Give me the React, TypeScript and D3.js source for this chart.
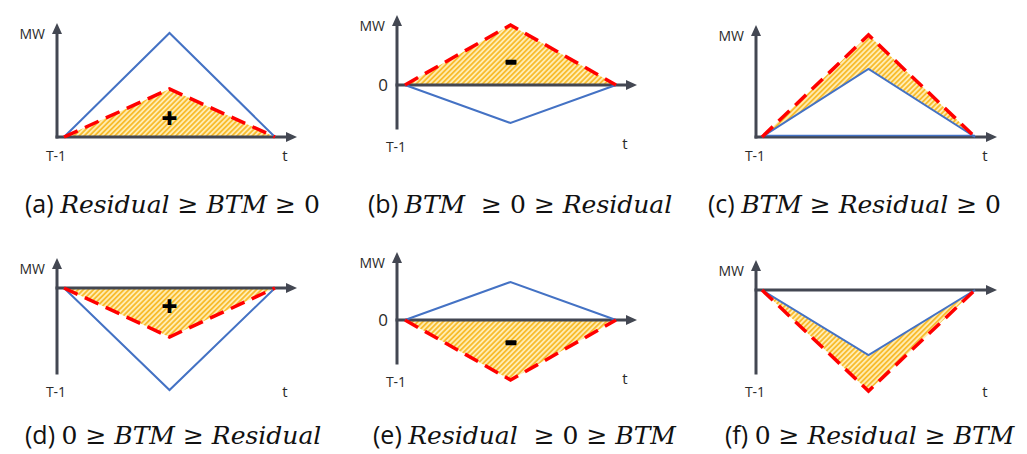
import React from 'react';
import * as d3 from 'd3';

// one entry per panel, (a) .. (f)
const panelTags = ['(a)', '(b)', '(c)', '(d)', '(e)', '(f)'];
const conditions = [
  'Residual ≥ BTM ≥ 0',
  'BTM  ≥ 0 ≥ Residual',
  'BTM ≥ Residual ≥ 0',
  '0 ≥ BTM ≥ Residual',
  'Residual  ≥ 0 ≥ BTM',
  '0 ≥ Residual ≥ BTM',
];
const timeSteps = [0, 0.5, 1]; // T-1 .. t
const residual = [
  [0, 104, 0],
  [0, -38, 0],
  [0, 68, 0],
  [0, -102, 0],
  [0, 38, 0],
  [0, -65, 0],
];
const btm = [
  [0, 48, 0],
  [0, 60, 0],
  [0, 102, 0],
  [0, -49, 0],
  [0, -60, 0],
  [0, -101, 0],
];
const axisTop = [114, 70, 112, 30, 68, 30];
const axisBottom = [0, -43, 0, -85, -43, -83];
const shadeTo = ['zero', 'zero', 'residual', 'zero', 'zero', 'residual'];
const signs = ['+', '-', '', '+', '-', ''];
const zeroLabel = [false, true, false, false, true, false];

// layout
const colAxis = [57, 397, 756];
const colLeft = [64, 405, 762];
const colRight = [275, 616, 975];
const colTip = [297, 637, 997];
const zeroY = [137, 85, 137, 288, 320, 290];
const captionX = [25, 368, 708, 25, 373, 725];
const captionY = [213, 213, 213, 444, 444, 444];

const AXIS = '#434752';
const BLUE = '#4472C4';
const RED = '#FF0000';
const SANS = 'Open Sans, sans-serif';
const MATH = 'DejaVu Serif, serif';

function Panel({ i }: { i: number }) {
  const col = i % 3;
  const x = d3.scaleLinear().domain([0, 1]).range([colLeft[col], colRight[col]]);
  const y = d3.scaleLinear().domain([0, 100]).range([zeroY[i], zeroY[i] - 100]);

  const line = d3.line<number>().x((d, k) => x(timeSteps[k])).y(d => y(d));
  const lower = shadeTo[i] === 'zero' ? [0, 0, 0] : residual[i];
  const area = d3.area<number>()
    .x((d, k) => x(timeSteps[k]))
    .y0((d, k) => y(lower[k]))
    .y1(d => y(d));

  const ax = colAxis[col];
  const yTop = y(axisTop[i]);
  const yBot = y(axisBottom[i]);
  const y0 = y(0);
  const tip = colTip[col];

  const signY = y(btm[i][1] * 0.38);

  return (
    <g>
      <path d={area(btm[i]) || ''} fill="url(#hatch)" />
      {/* axes */}
      <line x1={ax} x2={ax} y1={yBot + 1.5} y2={yTop + 8} stroke={AXIS} strokeWidth={3} />
      <path d={`M${ax},${yTop} L${ax - 5},${yTop + 11} L${ax + 5},${yTop + 11} Z`} fill={AXIS} />
      <line x1={ax - 1.5} x2={tip - 8} y1={y0} y2={y0} stroke={AXIS} strokeWidth={3} />
      <path d={`M${tip},${y0} L${tip - 11},${y0 - 5} L${tip - 11},${y0 + 5} Z`} fill={AXIS} />
      {shadeTo[i] === 'residual' && residual[i][1] > 0 && (
        <line x1={x(0)} x2={x(1)} y1={y0 - 1.5} y2={y0 - 1.5} stroke={BLUE} strokeWidth={1.5} />
      )}
      <path d={line(residual[i]) || ''} fill="none" stroke={BLUE} strokeWidth={2} />
      <path d={line(btm[i]) || ''} fill="none" stroke={RED} strokeWidth={3.5} strokeDasharray="15 8" />
      {signs[i] === '+' && (
        <text x={x(0.5)} y={signY + 9} textAnchor="middle" fontFamily={SANS} fontWeight={800} fontSize={28} fill="#000">+</text>
      )}
      {signs[i] === '-' && (
        <rect x={x(0.5) - 5} y={signY - 2.5} width={11} height={5} rx={1} fill="#000" />
      )}
      {/* labels */}
      <text x={ax - 12} y={yTop + 16} textAnchor="end" fontFamily={SANS} fontSize={14} fill="#2a2a2a">MW</text>
      <text x={ax - 1} y={yBot + 24} textAnchor="middle" fontFamily={SANS} fontSize={14} fill="#2a2a2a">T-1</text>
      <text x={tip - 12} y={yBot + (zeroLabel[i] ? 21 : 24)} textAnchor="middle" fontFamily={SANS} fontSize={15} fill="#2a2a2a">t</text>
      {zeroLabel[i] && (
        <text x={ax - 9} y={y0 + 6} textAnchor="end" fontFamily={SANS} fontSize={17} fill="#2a2a2a">0</text>
      )}
    </g>
  );
}

function Caption({ i }: { i: number }) {
  const tokens = conditions[i].split(/(\s|≥|0)/).filter(t => t !== '');
  return (
    <text x={captionX[i]} y={captionY[i]} fontSize={25} fill="#111" style={{ whiteSpace: 'pre' }}>
      <tspan fontFamily={SANS}>{panelTags[i] + ' '}</tspan>
      {tokens.map((t, k) => (
        <tspan key={k} fontFamily={MATH} fontStyle={/[A-Za-z]/.test(t) ? 'italic' : 'normal'}>{t}</tspan>
      ))}
    </text>
  );
}

export default function App() {
  return (
    <svg width={1027} height={454} style={{ position: 'absolute', left: 0, top: 0, background: '#fff' }}>
      <defs>
        <pattern id="hatch" patternUnits="userSpaceOnUse" width={3.6} height={3.6} patternTransform="rotate(45)">
          <rect width={3.6} height={3.6} fill="#FFEDB3" />
          <rect width={1.8} height={3.6} fill="#F8BC2E" />
        </pattern>
      </defs>
      {panelTags.map((_, i) => <Panel key={i} i={i} />)}
      {panelTags.map((_, i) => <Caption key={'c' + i} i={i} />)}
    </svg>
  );
}
